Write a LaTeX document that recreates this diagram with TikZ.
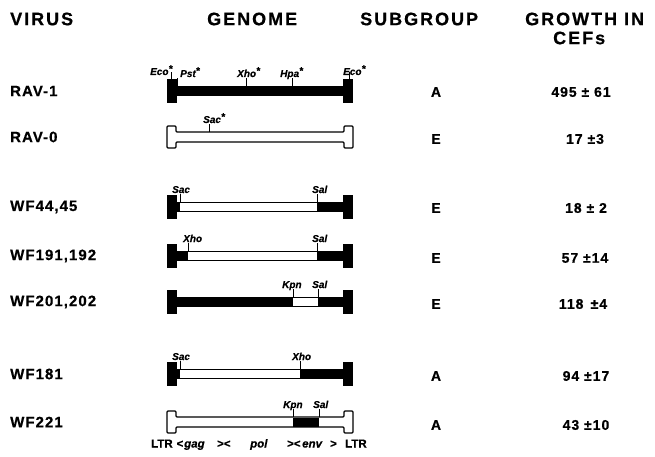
\documentclass[tikz,border=0pt]{standalone}
\usepackage{fontspec}
\setmainfont{Liberation Sans}[BoldFont={Liberation Sans Bold}, BoldItalicFont={Liberation Sans Bold Italic},
  BoldFeatures={FakeBold=0.5}, BoldItalicFeatures={FakeBold=0.5}]
\newfontfamily\headfont{Liberation Sans}[LetterSpace=11, BoldFont={Liberation Sans Bold}, BoldFeatures={FakeBold=0.6}]
\newfontfamily\rowfont{Liberation Sans}[LetterSpace=7, BoldFont={Liberation Sans Bold}, BoldFeatures={FakeBold=0.6}]
\newcommand{\siteast}{\raisebox{0.55ex}{*}}

\tikzset{
  head/.style={font=\headfont\bfseries\fontsize{18}{20}\selectfont, anchor=west, inner sep=0pt},
  virus/.style={font=\rowfont\bfseries\fontsize{15}{17}\selectfont, anchor=west, inner sep=0pt},
  subgrp/.style={font=\rowfont\bfseries\fontsize{14}{16}\selectfont, inner sep=0pt},
  growth/.style={font=\rowfont\bfseries\fontsize{14}{16}\selectfont, inner sep=0pt},
  site/.style={font=\bfseries\itshape\fontsize{10}{11}\selectfont, anchor=base west, inner sep=0pt},
  gene/.style={font=\bfseries\fontsize{11.5}{12}\selectfont, anchor=base west, inner sep=0pt},
  open bar/.style={draw=black, line width=1.1pt, rounded corners=1pt}
}

\begin{document}
\begin{tikzpicture}[x=1pt, y=-1pt]
  \useasboundingbox (0,0) rectangle (655,457);

  % headers
  \node[head] (hvirus) at (10,19) {VIRUS};
  \node[head] (hgenome) at (207,19) {GENOME};
  \node[head] (hsub) at (360,19) {SUBGROUP};
  \node[head] (hgrowth) at (525,19) {GROWTH IN};
  \node[head] (hcef) at (553,38) {CEFs};

  % virus names
  \node[virus] (rav1) at (10,91) {RAV-1};
  \node[virus] (rav0) at (10,137) {RAV-0};
  \node[virus] (wf44) at (10,207) {WF44,45};
  \node[virus] (wf191) at (10,256) {WF191,192};
  \node[virus] (wf201) at (10,302) {WF201,202};
  \node[virus] (wf181) at (10,374) {WF181};
  \node[virus] (wf221) at (10,422) {WF221};

  % solid genomes
  \foreach \y in {91,207,256,302,374} {
    \fill (167,\y-12) rectangle (177,\y+12);
    \fill (343,\y-12) rectangle (353,\y+12);
    \fill (177,\y-5) rectangle (343,\y+5);
  }
  % open parts of the recombinants
  \foreach \y/\a/\b in {207/180/317, 256/188/317, 302/293/318, 374/180/300}
    \fill[white] (\a,\y-3.8) rectangle (\b,\y+3.8);

  % open genomes
  \foreach \y in {137,422}
    \draw[open bar] (167,\y-11) -- (176,\y-11) -- (176,\y-5) -- (344,\y-5)
      -- (344,\y-11) -- (353,\y-11) -- (353,\y+11) -- (344,\y+11) -- (344,\y+5)
      -- (176,\y+5) -- (176,\y+11) -- (167,\y+11) -- cycle;
  \fill (293,417.5) rectangle (319,426.5);

  % Eco sites on the LTRs
  \draw (171,79) -- (171,72);
  \draw (349,79) -- (349,72);
  \node[site] (eco1) at (150,75) {Eco\siteast};
  \node[site] (eco2) at (343,75) {Eco\siteast};

  % restriction sites
  \foreach \x/\y/\l/\t [count=\i] in {177/91/180/{Pst\siteast}, 246/91/237/{Xho\siteast},
      292/91/280/{Hpa\siteast}, 209/137/203/{Sac\siteast},
      180/207/172/Sac, 317/207/312/Sal, 188/256/183/Xho, 317/256/312/Sal,
      293/302/282/Kpn, 318/302/312/Sal, 180/374/172/Sac, 300/374/292/Xho,
      293/422/283/Kpn, 319/422/313/Sal} {
    \draw (\x,\y-5) -- (\x,\y-13);
    \node[site] (site\i) at (\l,\y-14) {\t};
  }

  % subgroups
  \node[subgrp] (sg1) at (436,92) {A};
  \node[subgrp] (sg2) at (436,139) {E};
  \node[subgrp] (sg3) at (436,208) {E};
  \node[subgrp] (sg4) at (436,258) {E};
  \node[subgrp] (sg5) at (436,304) {E};
  \node[subgrp] (sg6) at (436,376) {A};
  \node[subgrp] (sg7) at (436,425) {A};

  % growth in CEFs
  \node[growth] (gr1) at (581,92) {495 ± 61};
  \node[growth] (gr2) at (585,139) {17 ±3};
  \node[growth] (gr3) at (586,208) {18 ± 2};
  \node[growth] (gr4) at (585,258) {57 ±14};
  \node[growth] (gr5) at (583,304) {118 \,±4};
  \node[growth] (gr6) at (586,376) {94 ±17};
  \node[growth] (gr7) at (586,425) {43 ±10};

  % gene map
  \foreach \x/\t [count=\i] in {151/LTR, 176.5/<, 184/\textit{gag}, 217/><, 250/\textit{pol},
      287/><, 302/\textit{env}, 330/>, 345/LTR}
    \node[gene] (gene\i) at (\x,447.5) {\t};
\end{tikzpicture}
\end{document}
